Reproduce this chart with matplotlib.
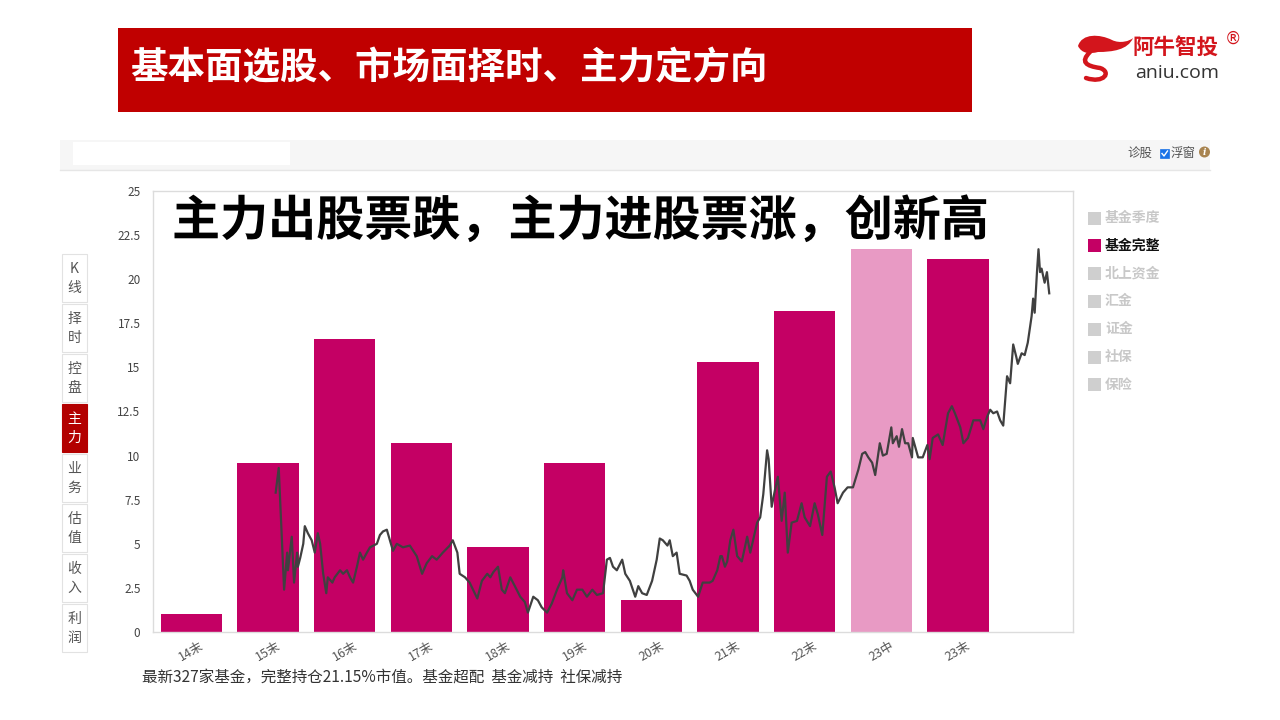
import matplotlib
matplotlib.use('Agg')
import matplotlib.pyplot as plt
from matplotlib.patches import Rectangle, PathPatch, Circle
from matplotlib.path import Path
import matplotlib.patheffects as pe

plt.rcParams['font.family'] = ['Noto Sans CJK SC', 'DejaVu Sans']

# ---------------- data ----------------
categories = ['14末', '15末', '16末', '17末', '18末', '19末', '20末', '21末', '22末', '23中', '23末', '']
fund_holding = [1.0, 9.6, 16.6, 10.7, 4.8, 9.6, 1.8, 15.3, 18.2, 21.7, 21.15]
bar_highlight = [False, False, False, False, False, False, False, False, False, True, False]

price_pos = [1.10, 1.14, 1.21, 1.25, 1.26, 1.31, 1.34, 1.38, 1.39, 1.42, 1.46, 1.48, 1.52, 1.57, 1.61,
             1.65, 1.68, 1.72, 1.76, 1.78, 1.84, 1.87, 1.94, 1.98, 2.03, 2.07, 2.11, 2.16, 2.20, 2.24,
             2.29, 2.33, 2.42, 2.46, 2.50, 2.55, 2.59, 2.63, 2.68, 2.76, 2.85, 2.94, 3.01, 3.07, 3.14,
             3.20, 3.28, 3.37, 3.41, 3.47, 3.50, 3.57, 3.63, 3.73, 3.79, 3.86, 3.90, 3.94, 4.00, 4.05,
             4.09, 4.16, 4.22, 4.29, 4.35, 4.39, 4.46, 4.52, 4.57, 4.64, 4.70, 4.77, 4.84, 4.85, 4.90,
             4.97, 5.03, 5.10, 5.16, 5.23, 5.29, 5.37, 5.42, 5.46, 5.50, 5.55, 5.62, 5.66, 5.72, 5.79,
             5.83, 5.88, 5.94, 6.01, 6.07, 6.11, 6.15, 6.21, 6.24, 6.28, 6.33, 6.37, 6.46, 6.50, 6.54,
             6.61, 6.67, 6.76, 6.80, 6.86, 6.90, 6.92, 6.96, 6.99, 7.03, 7.07, 7.12, 7.18, 7.25, 7.29,
             7.38, 7.42, 7.46, 7.51, 7.53, 7.57, 7.61, 7.65, 7.70, 7.74, 7.78, 7.83, 7.90, 7.96, 8.00,
             8.07, 8.13, 8.17, 8.23, 8.29, 8.34, 8.39, 8.43, 8.50, 8.56, 8.63, 8.70, 8.75, 8.79, 8.83,
             8.88, 8.92, 8.98, 9.02, 9.07, 9.13, 9.15, 9.20, 9.23, 9.27, 9.31, 9.35, 9.40, 9.41, 9.48,
             9.54, 9.60, 9.63, 9.67, 9.74, 9.80, 9.87, 9.92, 9.96, 10.03, 10.07, 10.13, 10.20, 10.29, 10.33,
             10.38, 10.42, 10.46, 10.51, 10.55, 10.59, 10.64, 10.68, 10.72, 10.76, 10.78, 10.83, 10.87, 10.91, 10.96,
             10.98, 11.00, 11.03, 11.05, 11.07, 11.09, 11.13, 11.16, 11.19]
price_val = [7.9, 9.3, 2.4, 4.5, 3.5, 5.4, 2.8, 4.5, 3.7, 4.2, 5.0, 6.0, 5.6, 5.2, 4.5,
             5.6, 5.0, 3.3, 2.2, 3.1, 2.8, 3.1, 3.5, 3.3, 3.5, 3.1, 2.8, 3.7, 4.5, 4.1,
             4.5, 4.8, 5.0, 5.5, 5.7, 5.8, 5.2, 4.6, 5.0, 4.8, 4.9, 4.3, 3.3, 3.9, 4.3,
             4.1, 4.5, 4.9, 5.2, 4.5, 3.3, 3.1, 2.8, 1.9, 2.9, 3.3, 3.1, 3.4, 3.7, 2.4,
             2.2, 3.1, 2.6, 2.0, 1.7, 1.1, 2.0, 1.8, 1.4, 1.1, 1.6, 2.4, 3.1, 3.5, 2.2,
             1.8, 2.4, 2.4, 2.0, 2.4, 2.1, 2.2, 4.1, 4.2, 3.7, 3.5, 4.1, 3.3, 2.9, 2.0,
             2.6, 2.2, 2.1, 2.9, 4.1, 5.3, 5.2, 4.9, 5.2, 4.3, 4.5, 3.3, 3.2, 2.9, 2.4,
             2.0, 2.8, 2.8, 2.9, 3.5, 4.3, 4.3, 3.7, 4.0, 5.2, 5.8, 4.3, 4.0, 5.4, 4.5,
             6.2, 6.5, 7.8, 10.3, 9.8, 7.1, 8.0, 8.8, 6.3, 7.9, 4.5, 6.2, 6.3, 7.3, 6.5,
             6.0, 7.3, 6.7, 5.5, 8.8, 9.1, 8.2, 7.3, 7.9, 8.2, 8.2, 9.2, 10.1, 10.2, 9.9,
             9.6, 8.9, 10.7, 10.0, 10.1, 11.6, 10.7, 11.1, 10.5, 11.5, 10.7, 10.7, 9.9, 11.0, 9.9,
             9.9, 10.6, 9.8, 11.0, 11.2, 10.6, 12.4, 12.8, 12.4, 11.6, 10.7, 11.0, 12.0, 12.0, 11.5,
             12.2, 12.6, 12.4, 12.5, 12.0, 11.7, 14.5, 14.1, 16.3, 15.6, 15.2, 15.8, 15.7, 16.4, 17.9,
             18.9, 18.1, 20.4, 21.7, 20.4, 20.6, 19.8, 20.4, 19.2]

y_ticks = [0, 2.5, 5, 7.5, 10, 12.5, 15, 17.5, 20, 22.5, 25]
y_tick_labels = ['0', '2.5', '5', '7.5', '10', '12.5', '15', '17.5', '20', '22.5', '25']

legend_items = ['基金季度', '基金完整', '北上资金', '汇金', '证金', '社保', '保险']
legend_active = '基金完整'
side_tabs = ['K线', '择时', '控盘', '主力', '业务', '估值', '收入', '利润']
active_tab = '主力'

banner_title = '基本面选股、市场面择时、主力定方向'
overlay_title = '主力出股票跌，主力进股票涨，创新高'
footnote = '最新327家基金，完整持仓21.15%市值。基金超配  基金减持  社保减持'

# ---------------- colors ----------------
BAR = '#C40064'
BAR_LIGHT = '#E89AC4'
LINE = '#404040'
RED = '#C00000'

W, H = 1280, 720
fig = plt.figure(figsize=(12.8, 7.2), dpi=100)
fig.patch.set_facecolor('white')

# main chart axes
ax = fig.add_axes([153 / W, 1 - 632 / H, 920 / W, 441 / H])
ax.set_zorder(1)
xs = list(range(len(fund_holding)))
colors = [BAR_LIGHT if h else BAR for h in bar_highlight]
ax.bar(xs, fund_holding, width=0.8, color=colors, zorder=2)
ax.plot(price_pos, price_val, color=LINE, lw=1.6, zorder=3)
ax.set_xlim(-0.5, len(categories) - 0.5)
ax.set_ylim(0, 25)
ax.set_yticks(y_ticks)
ax.set_yticklabels(y_tick_labels, fontsize=8.5, color='#444444')
ax.set_xticks(range(len(categories)))
ax.set_xticklabels(categories, fontsize=9, color='#555555', rotation=30, ha='center')
ax.tick_params(axis='both', length=0)
ax.tick_params(axis='y', pad=9)
ax.tick_params(axis='x', pad=5)
for s in ax.spines.values():
    s.set_color('#dcdcdc')
    s.set_linewidth(1.0)

# overlay axes in pixel coordinates
ov = fig.add_axes([0, 0, 1, 1])
ov.set_zorder(2)
ov.set_xlim(0, W)
ov.set_ylim(H, 0)
ov.axis('off')
ov.patch.set_alpha(0)

# banner
ov.add_patch(Rectangle((118, 28), 854, 84, color=RED, lw=0))
ov.text(130, 68, banner_title, color='white', fontsize=27, fontweight='bold',
        va='center', ha='left')

# logo
flag = Path([(1078, 46), (1082, 33), (1100, 34), (1112, 40), (1120, 44), (1130, 41), (1133, 38),
             (1128, 50), (1112, 52), (1098, 52), (1090, 54), (1082, 54), (1078, 46)],
            [Path.MOVETO, Path.CURVE4, Path.CURVE4, Path.CURVE4, Path.CURVE4, Path.CURVE4, Path.CURVE4,
             Path.CURVE4, Path.CURVE4, Path.CURVE4, Path.CURVE4, Path.CURVE4, Path.CURVE4])
ov.add_patch(PathPatch(flag, color='#D3151C', lw=0))
s_curve = Path([(1090, 52), (1080, 62), (1086, 66), (1100, 68), (1112, 72), (1104, 84), (1086, 78)],
               [Path.MOVETO, Path.CURVE4, Path.CURVE4, Path.CURVE4, Path.CURVE4, Path.CURVE4, Path.CURVE4])
ov.add_patch(PathPatch(s_curve, facecolor='none', edgecolor='#D3151C', lw=3.2, capstyle='round'))
ov.text(1133, 47, '阿牛智投', color='#D3151C', fontsize=15.5, fontweight='bold', va='center', ha='left')
ov.text(1225, 39, '®', color='#D3151C', fontsize=12, va='center', ha='left',
        family=['DejaVu Sans'])
ov.text(1135, 73, 'aniu.com', color='#333333', fontsize=14, va='center', ha='left',
        family=['Open Sans', 'DejaVu Sans'])

# toolbar
ov.add_patch(Rectangle((60, 140), 1150, 30, color='#f6f6f6', lw=0))
ov.add_patch(Rectangle((73, 142), 217, 23, color='white', lw=0))
ov.plot([60, 1210], [170, 170], color='#e6e6e6', lw=1)
ov.text(1140, 154, '诊股', fontsize=9, color='#555555', va='center', ha='center')
ov.add_patch(Rectangle((1160, 149), 9, 9, facecolor='#1a73e8', edgecolor='#1a73e8', lw=0.5))
ov.plot([1162, 1164, 1167.5], [153.5, 156, 151], color='white', lw=1)
ov.text(1183, 154, '浮窗', fontsize=9, color='#555555', va='center', ha='center')
ov.add_patch(Circle((1204.5, 152), 5.5, color='#A88450', lw=0))
ov.text(1204.5, 152.5, 'i', fontsize=6.5, color='white', va='center', ha='center',
        fontweight='bold', style='italic', family=['DejaVu Serif'])

# side tabs
tab_top = 253
tab_h = 50
for i, t in enumerate(side_tabs):
    y0 = tab_top + i * tab_h
    active = (t == active_tab)
    ov.add_patch(Rectangle((62, y0 + 1), 25, tab_h - 2,
                           facecolor='#B30000' if active else 'white',
                           edgecolor='#B30000' if active else '#e2e2e2', lw=0.8))
    c = 'white' if active else '#555555'
    ov.text(74.5, y0 + 16, t[0], fontsize=10, color=c, va='center', ha='center')
    ov.text(74.5, y0 + 35, t[1], fontsize=10, color=c, va='center', ha='center')

# overlay title
ov.text(172, 221, overlay_title, fontsize=34.6, fontweight='bold', color='black',
        va='center', ha='left',
        path_effects=[pe.withStroke(linewidth=4, foreground='white')])

# legend
for i, item in enumerate(legend_items):
    y = 218 + i * 27.8
    active = (item == legend_active)
    ov.add_patch(Rectangle((1088, y - 6.5), 13, 13,
                           color=BAR if active else '#cfcfcf', lw=0))
    ov.text(1105, y, item, fontsize=10, fontweight='bold',
            color='#111111' if active else '#c8c8c8', va='center', ha='left')

# footnote
ov.text(142, 677, footnote, fontsize=11.2, color='#333333', va='center', ha='left')

fig.savefig('out.png', dpi=100)
